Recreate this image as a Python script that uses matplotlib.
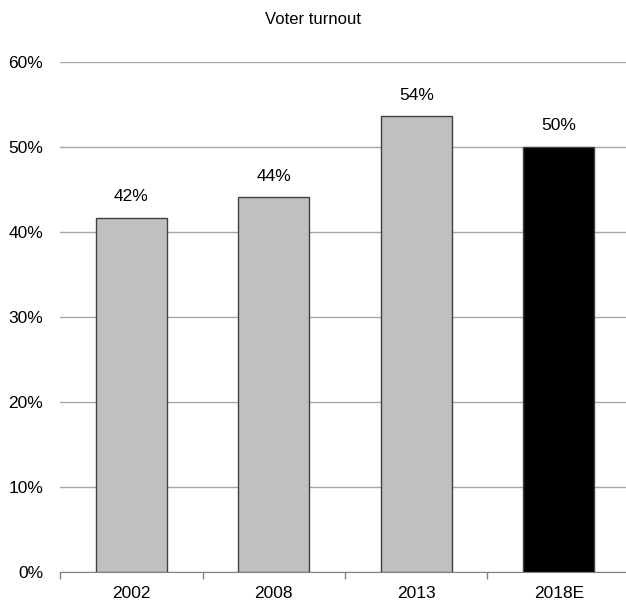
import matplotlib
matplotlib.use('Agg')
import matplotlib.pyplot as plt
from matplotlib.ticker import PercentFormatter

plt.rcParams['font.family'] = ['Liberation Sans', 'DejaVu Sans']

years  = ["2002", "2008", "2013", "2018E"]
turnout = [41.7, 44.1, 53.6, 50.0]
labels = ["42%", "44%", "54%", "50%"]
colors = ['#c0c0c0', '#c0c0c0', '#c0c0c0', '#000000']

fig = plt.figure(figsize=(6.26, 6.06), dpi=100)
ax = fig.add_axes([60 / 626, 34 / 606, 570 / 626, 510 / 606])

x = range(len(years))
bars = ax.bar(x, turnout, width=0.5, color=colors, edgecolor='#404040',
              linewidth=1, zorder=3)
for bar, lab in zip(bars, labels):
    ax.text(bar.get_x() + bar.get_width() / 2, bar.get_height() + 1.6, lab,
            ha='center', va='bottom', fontsize=12.5)

ax.set_xlim(-0.5, 3.5)
ax.set_ylim(0, 60)
ax.set_yticks(range(0, 61, 10))
ax.yaxis.set_major_formatter(PercentFormatter(decimals=0))
ax.grid(axis='y', color='#a6a6a6', linewidth=1, zorder=0)
ax.set_axisbelow(True)

ax.set_xticks(x)
ax.set_xticklabels(years)
ax.set_xticks([-0.5, 0.5, 1.5, 2.5, 3.5], minor=True)
ax.tick_params(axis='x', which='major', length=0, labelsize=12.5, pad=10)
ax.tick_params(axis='x', which='minor', length=5, color='#808080', width=1)
ax.tick_params(axis='y', length=0, labelsize=12.5, pad=12)

for s in ['top', 'right', 'left']:
    ax.spines[s].set_visible(False)
ax.spines['bottom'].set_color('#808080')

fig.text(313 / 626, 1 - 20 / 606, "Voter turnout", ha='center', va='center',
         fontsize=12)

fig.savefig("out.png", dpi=100)
